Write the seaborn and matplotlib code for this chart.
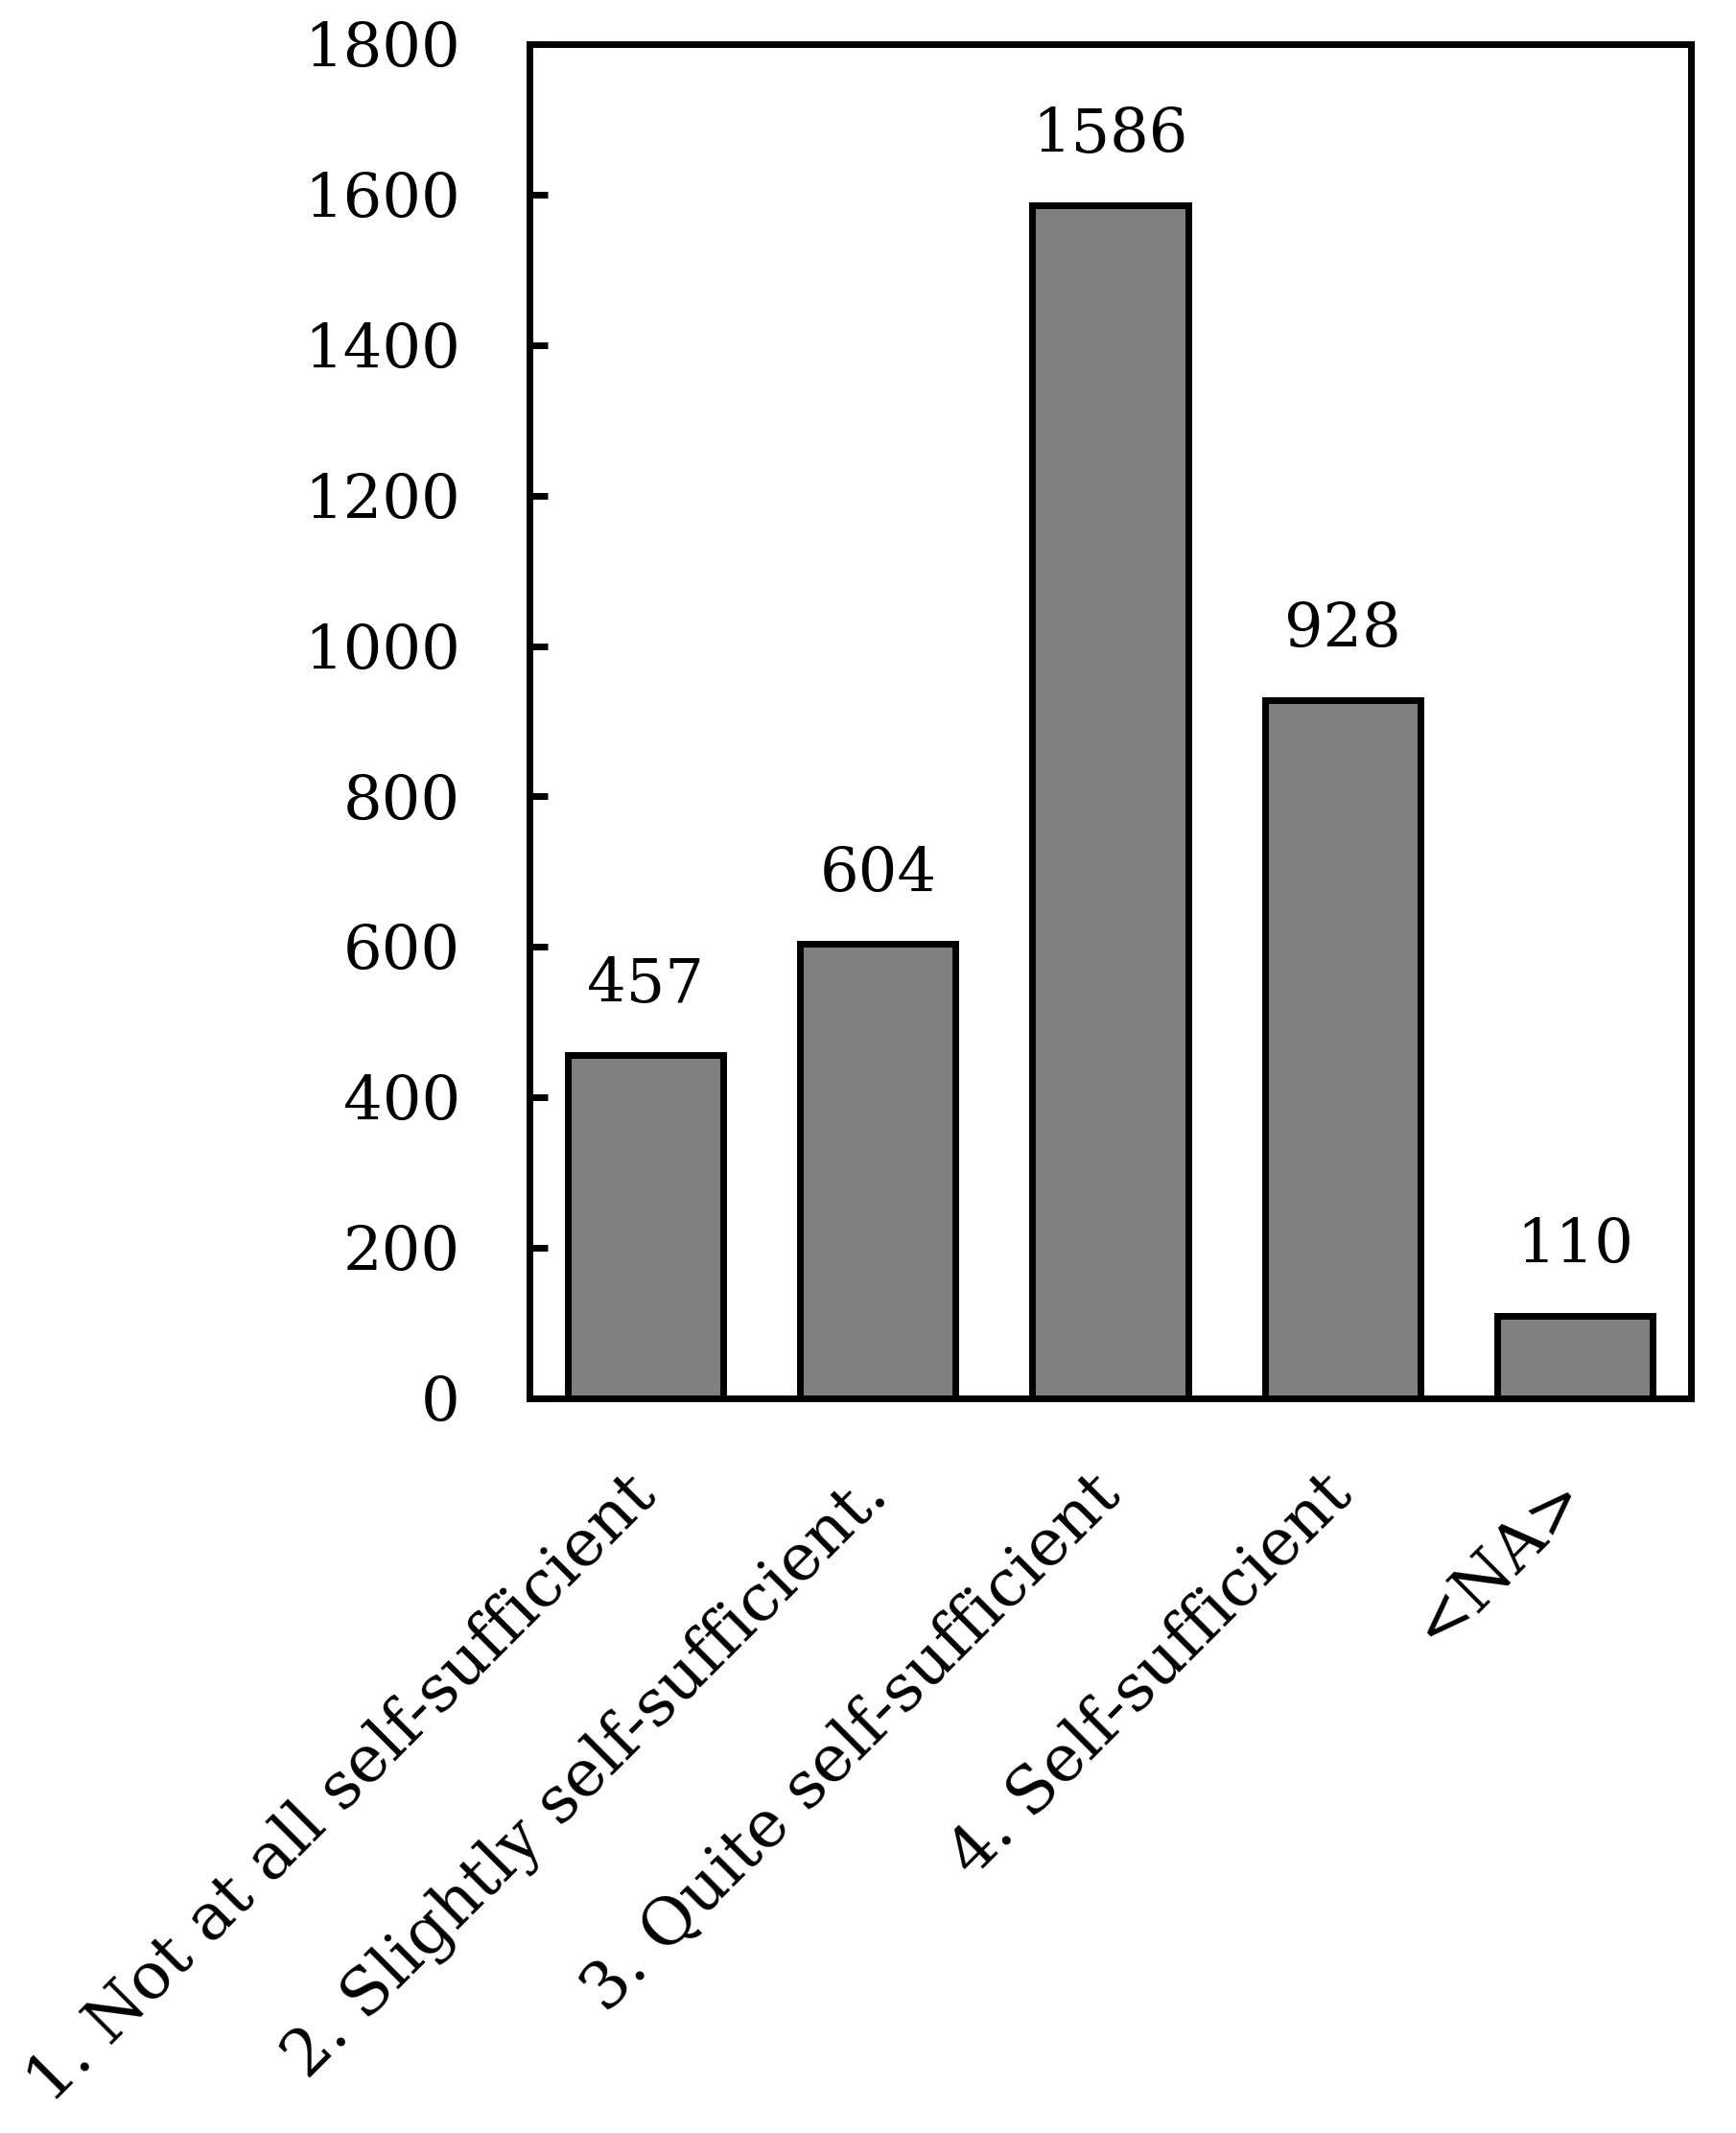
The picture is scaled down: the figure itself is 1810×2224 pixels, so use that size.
import matplotlib
matplotlib.use("Agg")
import matplotlib.pyplot as plt
import seaborn as sns
import pandas as pd

categories = ["1. Not at all self-sufficient", "2. Slightly self-sufficient.",
              "3. Quite self-sufficient", "4. Self-sufficient", "<NA>"]
counts = [457, 604, 1586, 928, 110]
yticks = [0, 200, 400, 600, 800, 1000, 1200, 1400, 1600, 1800]

sns.set_theme(style="white")
plt.rcParams['font.family'] = ['DejaVu Serif', 'Liberation Serif']
plt.rcParams['text.color'] = 'black'
plt.rcParams['xtick.color'] = 'black'
plt.rcParams['ytick.color'] = 'black'
plt.rcParams['axes.labelcolor'] = 'black'

df = pd.DataFrame({"cat": categories, "n": counts})

fig = plt.figure(figsize=(18.1, 22.24), dpi=100)
ax = fig.add_axes([0.305, 0.3444, 0.669, 0.6349])
sns.barplot(data=df, x="cat", y="n", color="#808080", saturation=1,
            width=0.67, edgecolor="black", linewidth=5, ax=ax)
ax.set_ylim(0, 1800)
ax.set_xlim(-0.5, 4.5)
ax.set_yticks(yticks)
ax.set_xlabel("")
ax.set_ylabel("")
for s in ax.spines.values():
    s.set_linewidth(5)
    s.set_color("black")
ax.tick_params(axis="y", direction="in", length=14, width=5, pad=52,
               labelsize=46, left=True, labelcolor="black")
ax.tick_params(axis="x", length=0, pad=65, labelsize=49, labelcolor="black")
for lab in ax.get_xticklabels():
    lab.set_rotation(45)
    lab.set_ha("right")
    lab.set_rotation_mode("anchor")
    lab.set_va("center")
ax.bar_label(ax.containers[0], labels=[str(c) for c in counts],
             padding=30, fontsize=46, color="black")
fig.savefig("out.png", dpi=100)
